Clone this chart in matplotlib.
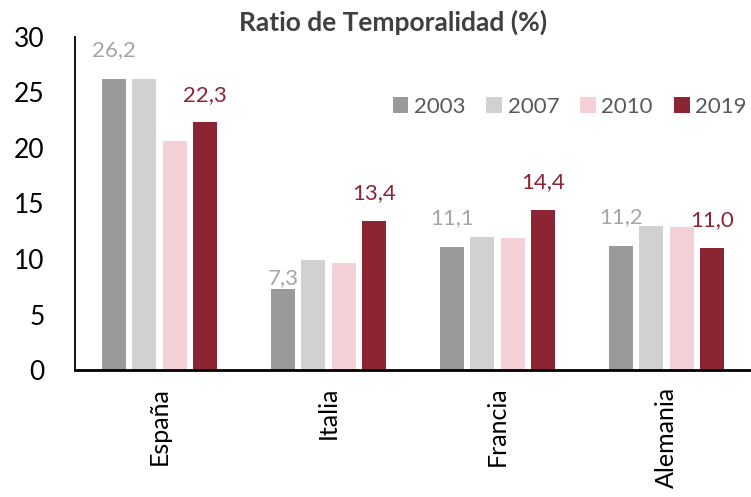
import numpy as np
import matplotlib.pyplot as plt

plt.rcParams['font.family'] = ['Lato', 'DejaVu Sans']

# datos
paises = ["España", "Italia", "Francia", "Alemania"]
years = ["2003", "2007", "2010", "2019"]
v2003 = [26.2, 7.3, 11.1, 11.2]
v2007 = [26.2, 9.9, 12.0, 13.0]
v2010 = [20.6, 9.6, 11.9, 12.9]
v2019 = [22.3, 13.4, 14.4, 11.0]

series = [v2003, v2007, v2010, v2019]
colors = ["#999a9c", "#d0d1d0", "#f4d1d6", "#8b2533"]

fig = plt.figure(figsize=(7.51, 4.97), dpi=100)
ax = fig.add_axes([0.0999, 0.2555, 0.9001, 0.6701])

x = np.arange(len(paises))
step = 0.18
width = 0.14
for i, (vals, c, yr) in enumerate(zip(series, colors, years)):
    ax.bar(x + (i - 1.5) * step, vals, width, color=c, label=yr)

# etiquetas de datos (solo 2003 y 2019)
def fmt(v):
    return f"{v:.1f}".replace(".", ",")

for j in range(len(paises)):
    off = 0.1 if v2003[j] < 8 else 1.7
    ax.text(x[j] - 1.5 * step, v2003[j] + off, fmt(v2003[j]), ha="center", va="bottom",
            fontsize=16, color="#a6a6a6")
    ax.text(x[j] + 1.5 * step, v2019[j] + 1.6, fmt(v2019[j]), ha="center", va="bottom",
            fontsize=16, color="#8b2533")

ax.set_xlim(-0.5, 3.5)
ax.set_ylim(0, 30)
ax.set_yticks(range(0, 31, 5))
ax.set_xticks(x)
ax.set_xticklabels(paises, rotation=90, fontsize=18)
ax.tick_params(axis="y", length=0, pad=22, labelsize=19)
ax.tick_params(axis="x", length=0, pad=12)

for s in ["top", "right"]:
    ax.spines[s].set_visible(False)
ax.spines["left"].set_linewidth(1.3)
ax.spines["bottom"].set_linewidth(2)

ax.legend(loc="center left", bbox_to_anchor=(0.47, 0.79), ncol=4, frameon=False,
          fontsize=16, handlelength=0.7, handleheight=0.7, handletextpad=0.25,
          columnspacing=0.95, labelcolor="#595959", borderaxespad=0, borderpad=0)

fig.text(0.523, 0.955, "Ratio de Temporalidad (%)", ha="center", va="center",
         fontsize=19, fontweight="bold", color="#404040")

fig.savefig("out.png", dpi=100)
